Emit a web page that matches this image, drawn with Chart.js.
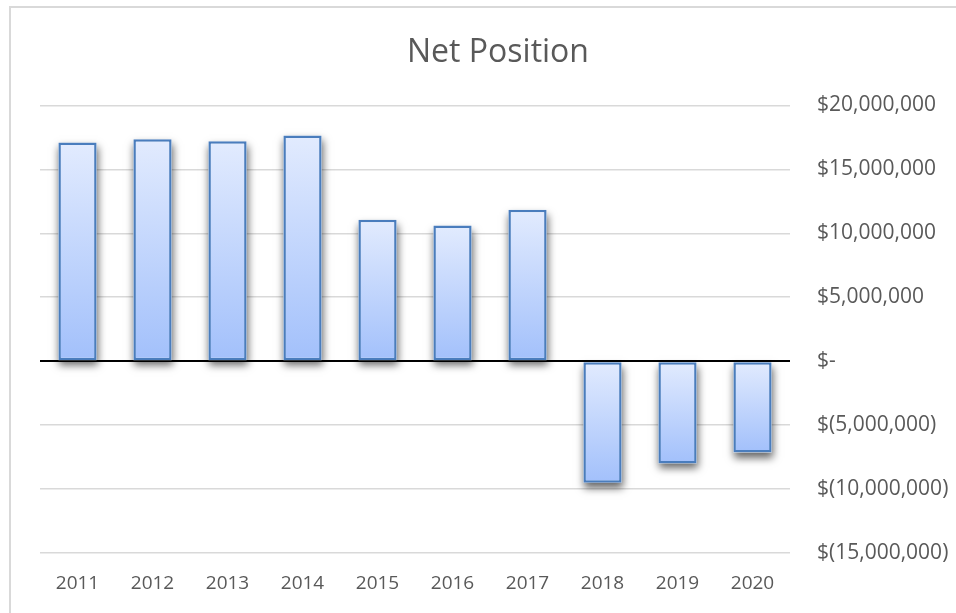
<!DOCTYPE html>
<html lang="en">
<head>
<meta charset="UTF-8">
<title>Net Position</title>
<script src="https://cdn.jsdelivr.net/npm/chart.js"></script>
<style>
  html, body { margin: 0; padding: 0; background: #fff; overflow: hidden; }
  #frame { position: absolute; left: 9px; top: 6px; width: 960px; height: 620px; border: 2px solid #d9d9d9; box-sizing: border-box; }
  #wrap { position: absolute; left: 0; top: 0; width: 956px; height: 613px; }
</style>
</head>
<body>
<div id="frame"></div>
<div id="wrap"><canvas id="net-position-chart"></canvas></div>

<script>
var years = ['2011', '2012', '2013', '2014', '2015', '2016', '2017', '2018', '2019', '2020'];
var netPosition = [17100000, 17350000, 17200000, 17650000, 11050000, 10600000, 11850000, -9500000, -8000000, -7150000];
var axisMin = -15000000;
var axisMax = 20000000;
var axisStep = 5000000;

// format like the accounting style of the original sheet
function money(v) {
    if (v === 0) return '$-';
    var s = Math.abs(v).toLocaleString('en-US');
    return v < 0 ? '$(' + s + ')' : '$' + s;
}

function barGradient(context) {
    var chart = context.chart;
    var y = chart.scales.y;
    if (!chart.chartArea || !y) return '#c3d6fd';
    var v = context.raw;
    var top = y.getPixelForValue(Math.max(v, 0));
    var bottom = y.getPixelForValue(Math.min(v, 0));
    var g = chart.ctx.createLinearGradient(0, top, 0, bottom);
    g.addColorStop(0, '#e2ebfe');
    g.addColorStop(1, '#a2c0fb');
    return g;
}

// soft drop shadow under the bars, painted before the bars themselves
var barShadow = {
    id: 'barShadow',
    beforeDatasetsDraw: function(chart) {
        var ctx = chart.ctx;
        var meta = chart.getDatasetMeta(0);
        ctx.save();
        ctx.shadowColor = 'rgba(0, 0, 0, 0.6)';
        ctx.shadowBlur = 8;
        ctx.shadowOffsetX = 1;
        ctx.shadowOffsetY = 5;
        ctx.fillStyle = '#ffffff';
        meta.data.forEach(function(bar) {
            var p = bar.getProps(['x', 'y', 'base', 'width'], true);
            var top = Math.min(p.y, p.base);
            var h = Math.abs(p.base - p.y);
            ctx.fillRect(p.x - p.width / 2, top, p.width, h);
        });
        ctx.restore();
    }
};

var ctx = document.getElementById('net-position-chart').getContext('2d');
var chart = new Chart(ctx, {
    type: 'bar',
    data: {
        labels: years,
        datasets: [{
            label: 'Net Position',
            data: netPosition,
            backgroundColor: barGradient,
            borderColor: '#4a7dbd',
            borderWidth: 2.5,
            borderSkipped: false,
            categoryPercentage: 1,
            barPercentage: 0.51
        }]
    },
    plugins: [barShadow],
    options: {
        responsive: true,
        maintainAspectRatio: false,
        animation: false,
        layout: {
            padding: { left: 40, right: 0, top: 0, bottom: 0 }
        },
        plugins: {
            legend: { display: false },
            tooltip: { enabled: false },
            title: {
                display: true,
                text: 'Net Position',
                color: '#595959',
                font: { family: 'Open Sans', size: 32, weight: 'normal' },
                padding: { top: 34, bottom: 33 }
            }
        },
        scales: {
            x: {
                grid: { display: false },
                border: { display: false },
                ticks: {
                    color: '#595959',
                    font: { family: 'Open Sans', size: 19 },
                    padding: 11
                },
                afterFit: function(scale) { scale.height = 60; }
            },
            y: {
                position: 'right',
                min: axisMin,
                max: axisMax,
                border: { display: false },
                grid: {
                    drawTicks: false,
                    color: function(c) { return c.tick && c.tick.value === 0 ? '#000000' : '#d9d9d9'; },
                    lineWidth: function(c) { return c.tick && c.tick.value === 0 ? 2 : 1.5; }
                },
                ticks: {
                    stepSize: axisStep,
                    color: '#595959',
                    font: { family: 'Open Sans', size: 21 },
                    padding: 27,
                    callback: function(v) { return money(v); }
                },
                afterFit: function(scale) { scale.width = 166; }
            }
        }
    }
});
</script>
</body>
</html>
